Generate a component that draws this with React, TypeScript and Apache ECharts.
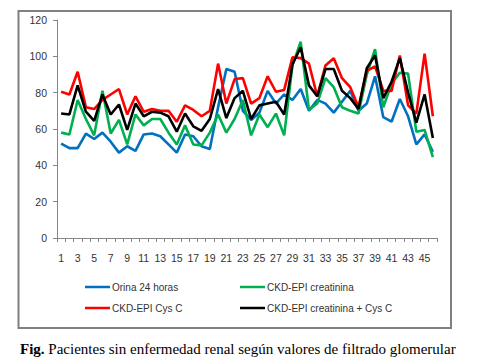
import React, { useEffect, useRef } from "react";
import * as echarts from "echarts";

const categories: string[] = Array.from({ length: 46 }, (_, i) => String(i + 1));

const orina24: number[] = [
  52, 49.5, 49.5, 57.5, 54.5, 58, 53, 47, 50.5, 48, 57, 57.5, 56, 51.5, 47, 57, 56, 50.5, 49, 72,
  93, 91.5, 70, 65, 69, 81, 74, 79, 76, 82, 70, 76, 74, 69, 75, 81, 70, 74, 89, 66.5,
  64, 76.5, 67, 51.5, 57, 47.5,
];
const ckdCreat: number[] = [
  58, 57, 76, 65.5, 56.5, 81, 57.5, 65, 51.5, 68, 62, 65.5, 65.5, 58, 51.5, 62, 51.5, 51, 58, 68,
  58, 65.5, 76, 56.5, 68, 61, 68.5, 56.5, 95, 108, 70.5, 74, 88, 83, 72, 70, 68.5, 90, 104, 72,
  85, 91, 90.5, 58.5, 59.5, 44.5,
];
const ckdCys: number[] = [
  80.5, 79, 91.5, 72, 71, 76, 79, 82, 68, 78, 69.5, 71, 70, 70, 64, 73, 70.5, 67, 70, 96,
  74, 87.5, 88, 74, 77, 89, 80.5, 81.5, 99.5, 99, 96, 78, 95, 99, 88, 83, 72, 92, 94.5, 81,
  81, 100.5, 73, 68.5, 101.5, 67,
];
const ckdCreatCys: number[] = [
  68.5, 68, 84, 69.5, 64.5, 79, 68, 73.5, 59.5, 74, 67, 69.5, 69, 67, 58.5, 68.5, 61.5, 59, 65.5, 82,
  66, 77, 81, 65.5, 73, 74, 75, 68, 95.5, 105, 84, 78, 93, 93, 81, 77, 71, 93.5, 100.5, 77,
  86, 99, 80, 63.5, 79, 55,
];

const seriesNames: string[] = [
  "Orina 24 horas",
  "CKD-EPI creatinina",
  "CKD-EPI Cys C",
  "CKD-EPI creatinina + Cys C",
];
const seriesColors: string[] = ["#0070C0", "#00B050", "#FF0000", "#000000"];
const caption = "Pacientes sin enfermedad renal según valores de filtrado glomerular";

const FONT = "Liberation Sans";

export default function App() {
  const ref = useRef<HTMLDivElement>(null);

  useEffect(() => {
    document.body.style.margin = "0";
    if (!ref.current) return;
    const chart = echarts.init(ref.current, undefined, { renderer: "svg" });
    const data = [orina24, ckdCreat, ckdCys, ckdCreatCys];

    const legendPos = [
      { left: 80, top: 277 },
      { left: 235, top: 277 },
      { left: 80, top: 298 },
      { left: 235, top: 298 },
    ];

    chart.setOption({
      animation: false,
      backgroundColor: "#ffffff",
      grid: { left: 57, right: 45, top: 20, bottom: 126 },
      xAxis: {
        type: "category",
        data: categories,
        boundaryGap: true,
        axisLine: { lineStyle: { color: "#868686", width: 1 } },
        axisTick: { show: true, interval: 0, length: 4, lineStyle: { color: "#868686" } },
        axisLabel: {
          interval: 1,
          margin: 14,
          color: "#333333",
          fontFamily: FONT,
          fontSize: 10.5,
        },
        splitLine: { show: false },
      },
      yAxis: {
        type: "value",
        min: 0,
        max: 120,
        interval: 20,
        axisLine: { show: true, lineStyle: { color: "#868686", width: 1 } },
        axisTick: { show: true, length: 4, lineStyle: { color: "#868686" } },
        axisLabel: {
          margin: 10,
          color: "#333333",
          fontFamily: FONT,
          fontSize: 10.5,
        },
        splitLine: { show: false },
      },
      legend: seriesNames.map((name, i) => ({
        data: [name],
        left: legendPos[i].left,
        top: legendPos[i].top,
        icon: "rect",
        itemWidth: 25,
        itemHeight: 2.5,
        textStyle: { fontFamily: FONT, fontSize: 10, color: "#333333", padding: [0, 0, 0, -3] },
      })),
      series: seriesNames.map((name, i) => ({
        name,
        type: "line",
        data: data[i],
        symbol: "none",
        showSymbol: false,
        lineStyle: { color: seriesColors[i], width: 2.6 },
        itemStyle: { color: seriesColors[i] },
      })),
      graphic: [
        {
          type: "rect",
          shape: { x: 18.5, y: 11, width: 432.5, height: 317 },
          style: { fill: "none", stroke: "#808080", lineWidth: 2 },
          silent: true,
        },
        {
          type: "text",
          x: 20,
          y: 341,
          style: {
            text: "{b|Fig.} " + caption,
            rich: {
              b: { fontWeight: "bold", fontFamily: "Liberation Serif", fontSize: 15, fill: "#000" },
            },
            fontFamily: "Liberation Serif",
            fontSize: 15,
            fill: "#000000",
          },
        },
      ],
    });

    return () => chart.dispose();
  }, []);

  return <div ref={ref} style={{ width: 482, height: 364 }} />;
}
